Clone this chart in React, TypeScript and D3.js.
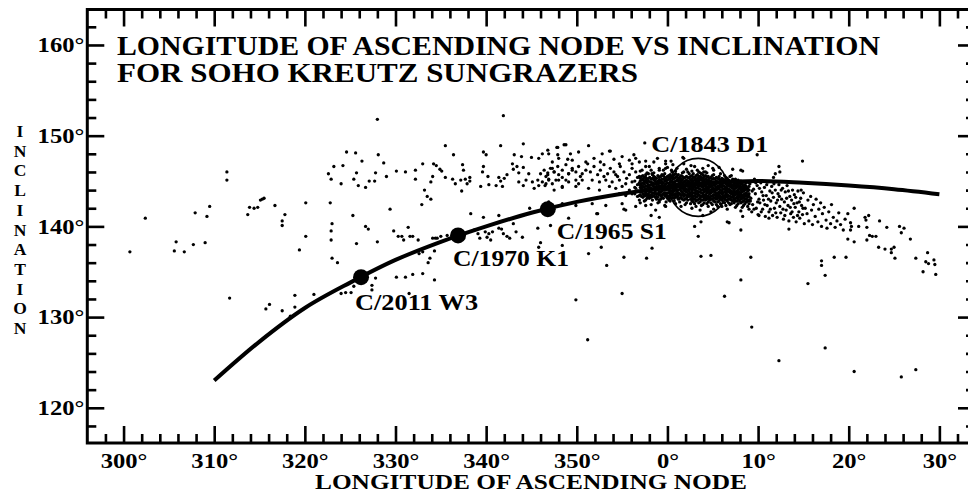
import { useEffect, useRef } from 'react'
import * as d3 from 'd3'

const WIDTH = 968
const HEIGHT = 493
const FONT = "'Liberation Serif', serif"

const titleLines = ['LONGITUDE OF ASCENDING NODE VS INCLINATION', 'FOR SOHO KREUTZ SUNGRAZERS']
const xAxisTitle = 'LONGITUDE OF ASCENDING NODE'
const yAxisTitle = 'INCLINATION'

// longitudes after 0° are kept as read and unwrapped (+360) when drawn
const xMajorTicks = [300, 310, 320, 330, 340, 350, 0, 10, 20, 30]
const yMajorTicks = [120, 130, 140, 150, 160]

// [longitude, inclination] along the drawn Kreutz curve
const kreutzCurve: [number, number][] = [
  [310, 123.0], [315, 127.3], [320, 131.0], [325, 133.8], [330, 136.3],
  [335, 138.3], [340, 140.0], [345, 141.5], [350, 142.7], [355, 143.6],
  [0, 144.3], [5, 144.8], [10, 145.0], [15, 144.8], [20, 144.5],
  [25, 144.1], [30, 143.55],
]

const namedComets = [
  { name: 'C/2011 W3', lon: 326.2, inc: 134.4 },
  { name: 'C/1970 K1', lon: 336.9, inc: 139.0 },
  { name: 'C/1965 S1', lon: 346.8, inc: 141.9 },
]
const greatComet = { name: 'C/1843 D1', lon: 3.4, inc: 144.3 }

// sparse SOHO comets, west of the main clump
const westPoints: [number, number][] = [
  [300.7, 137.2], [302.4, 140.9], [305.6, 137.3], [305.8, 138.3], [306.7, 137.2], [307.7, 138.0],
  [307.9, 141.5], [309.0, 138.2], [309.2, 141.1], [309.5, 142.2], [311.4, 145.1], [311.4, 146.0],
  [311.7, 132.1], [313.7, 141.3], [313.9, 142.1], [314.4, 142.0], [314.8, 142.1], [315.1, 142.9],
  [315.3, 143.0], [315.5, 143.1], [315.7, 130.9], [316.1, 131.4], [316.7, 142.3], [317.5, 130.7],
  [317.5, 140.6], [317.5, 140.1], [317.8, 141.3], [318.4, 130.1], [318.9, 132.4], [318.9, 131.1],
  [319.4, 137.4], [320.1, 142.6], [320.1, 138.9], [321.0, 132.5], [322.6, 145.8], [322.8, 142.6],
  [322.9, 145.2], [323.0, 140.3], [322.9, 139.5], [322.9, 138.5], [323.0, 136.5], [323.2, 146.6],
]

const middlePoints: [number, number][] = [
  [328.0, 151.8], [341.9, 152.2], [324.6, 148.2], [325.6, 148.1], [326.3, 147.2], [328.1, 147.9],
  [328.7, 147.0], [335.5, 148.9], [336.4, 147.9], [339.7, 148.2], [340.0, 147.9], [341.6, 148.9],
  [344.1, 149.1], [343.1, 147.9], [343.9, 147.7], [345.0, 147.6], [345.8, 147.5], [346.8, 148.4],
  [347.8, 148.7], [348.8, 149.0], [347.9, 147.9], [349.0, 147.4],
  [324.2, 146.7], [324.0, 144.7], [325.4, 145.2], [325.7, 145.9], [325.9, 144.5], [326.7, 144.3],
  [327.1, 145.0], [327.8, 145.9], [327.7, 145.0], [329.0, 145.5], [330.1, 146.1], [331.1, 146.0],
  [332.2, 146.2], [332.2, 145.2], [333.0, 146.9], [334.2, 146.9], [334.5, 146.7], [334.9, 146.3],
  [335.1, 146.1], [335.5, 145.4], [334.1, 145.5], [333.9, 144.9], [336.3, 145.2], [337.4, 146.8],
  [337.5, 146.2], [337.7, 145.2], [337.2, 145.1], [337.9, 144.7], [338.2, 145.4], [338.2, 145.0],
  [336.6, 144.7], [337.3, 143.9], [339.6, 146.0], [339.7, 146.6], [340.2, 145.5], [339.4, 144.4],
  [340.3, 144.6], [341.4, 145.4], [341.6, 145.0], [342.0, 145.3], [341.1, 144.5], [341.8, 144.4],
  [342.3, 145.7], [342.9, 146.9], [343.0, 146.3], [343.4, 146.6], [343.6, 145.9], [344.1, 146.5],
  [344.4, 145.1], [344.7, 145.8], [345.1, 144.9], [345.7, 145.1], [345.8, 144.5], [346.2, 144.9],
  [346.6, 145.5], [346.8, 145.9], [346.9, 145.2], [347.3, 146.4], [347.5, 146.0], [347.7, 145.1],
  [348.0, 145.7], [348.4, 145.4], [348.8, 145.1], [349.1, 145.8], [349.5, 146.2], [349.9, 144.4],
  [343.6, 144.9], [344.1, 144.5], [345.3, 144.2], [346.5, 144.5], [347.3, 144.7], [348.4, 144.3],
  [333.2, 144.0], [333.5, 143.3], [333.9, 143.0], [332.9, 142.4], [329.4, 141.9], [325.3, 141.2],
  [323.6, 136.0], [326.7, 140.0], [327.0, 139.7], [328.0, 138.3], [325.7, 138.1], [329.8, 139.5],
  [330.3, 138.9], [330.7, 138.9], [330.9, 138.5], [331.4, 139.9], [331.6, 138.9], [331.9, 138.9],
  [332.5, 138.5], [332.6, 137.0], [333.0, 137.2], [333.6, 136.0], [333.8, 136.5], [334.3, 137.3],
  [334.4, 138.7], [335.0, 138.9], [335.7, 139.0], [334.1, 138.7], [334.6, 138.7], [338.3, 141.4],
  [338.7, 139.6], [339.1, 139.2], [339.3, 138.7], [339.7, 141.0], [339.9, 139.4], [340.1, 138.8],
  [340.3, 139.2], [340.5, 138.5], [340.7, 139.4], [341.4, 141.2], [341.4, 139.8], [341.7, 139.7],
  [341.9, 139.2], [342.3, 138.9], [342.6, 138.7], [343.0, 140.3], [343.3, 139.4], [344.0, 138.8],
  [344.8, 142.0], [345.8, 137.7], [346.0, 138.2], [345.7, 139.8], [347.1, 140.1], [348.4, 137.9],
  [349.1, 140.9], [349.9, 131.9],
  [330.1, 134.4], [331.1, 134.4], [331.9, 134.7], [333.0, 134.8], [334.3, 134.1], [331.5, 132.6],
  [324.0, 132.6], [324.5, 132.7], [325.1, 132.7], [325.4, 133.4], [327.4, 133.0], [327.4, 133.5],
  [327.8, 134.3], [326.0, 133.8],
]

// approach to the clump, 346°-1°
const clumpEdgePoints: [number, number][] = [
  [347.9, 148.7], [348.6, 149.0], [346.2, 148.0], [346.9, 148.0], [349.3, 148.0], [350.2, 148.2],
  [351.3, 148.9], [352.8, 148.0], [353.6, 148.3], [351.9, 147.5], [352.6, 147.1], [354.1, 147.4],
  [355.0, 147.7], [355.8, 147.3], [356.5, 147.5], [356.9, 147.1], [357.6, 147.2], [358.5, 147.1],
  [358.9, 147.5], [359.8, 146.9], [0.4, 147.2], [347.3, 147.1], [348.0, 147.5], [349.5, 147.3],
  [351.0, 147.1], [354.7, 146.9], [356.1, 146.9],
  [346.0, 145.8], [346.4, 146.2], [346.8, 145.7], [347.1, 146.4], [347.5, 146.0], [347.9, 146.6],
  [348.4, 146.2], [348.8, 146.8], [349.1, 145.8], [349.5, 146.4], [349.9, 146.0], [350.2, 146.6],
  [350.6, 145.8], [351.0, 146.2], [351.2, 146.9], [351.5, 146.0], [351.9, 146.6], [352.3, 145.7],
  [352.6, 146.2], [353.0, 146.8], [353.4, 145.8], [353.7, 146.4], [354.1, 146.0], [354.5, 145.5],
  [354.8, 146.6], [355.2, 146.0], [355.5, 145.3], [355.8, 145.7], [356.1, 146.4], [356.5, 146.0],
  [356.9, 145.5], [357.2, 146.2], [357.6, 145.7], [358.0, 146.6], [358.3, 145.8], [358.7, 145.3],
  [359.1, 146.2], [359.4, 145.7], [359.8, 146.4], [0.2, 145.5], [0.5, 146.0], [0.9, 145.8],
  [351.7, 145.1], [352.5, 144.9], [353.2, 145.1], [353.9, 144.9], [354.7, 145.1], [355.4, 144.7],
  [356.1, 144.9], [356.9, 144.8], [357.6, 145.1], [358.3, 144.7], [359.1, 144.9], [359.8, 145.1],
  [0.5, 144.9], [350.6, 145.1], [349.9, 145.1], [349.1, 144.9], [348.0, 145.1], [346.9, 145.1],
  [353.0, 145.5], [354.3, 145.7], [350.4, 145.5],
  [353.6, 144.4], [354.3, 144.2], [355.0, 144.4], [355.8, 144.0], [356.5, 144.2], [357.2, 144.4],
  [358.0, 144.0], [358.7, 144.2], [359.4, 144.4], [0.2, 144.0], [0.9, 144.2], [354.7, 143.6],
  [355.4, 143.4], [356.1, 143.6], [356.9, 143.4], [357.6, 143.6], [358.3, 143.4], [359.1, 143.6],
  [359.8, 143.4], [0.5, 143.6], [356.9, 142.9], [358.0, 143.1], [359.1, 142.9], [0.2, 143.1],
  [1.1, 143.3], [350.2, 144.7], [351.3, 144.2], [352.5, 144.0], [348.4, 144.4], [346.6, 144.7],
  [347.5, 144.0],
  [346.9, 142.7], [348.4, 142.5], [349.9, 142.3], [351.7, 142.5], [353.2, 142.3], [355.0, 142.5],
  [356.5, 142.2], [357.6, 142.3], [358.7, 141.8], [359.8, 142.2], [352.3, 141.4], [355.4, 141.8],
]

// scattered points east of 348°, away from the clump
const eastPoints: [number, number][] = [
  [353.3, 135.7], [8.1, 134.1], [355.0, 132.6], [6.3, 132.3], [9.3, 128.9], [351.2, 127.5],
  [357.5, 149.2], [353.7, 148.3], [352.2, 141.4], [355.2, 141.9], [358.2, 141.2], [359.1, 141.0],
  [352.7, 137.7], [351.3, 137.0], [355.2, 136.6], [357.7, 136.5], [358.3, 137.6], [3.0, 140.0],
  [3.4, 138.9], [3.7, 140.5], [3.7, 136.7], [4.8, 136.8], [6.8, 140.4], [8.1, 139.6], [9.2, 136.6],
  [359.8, 147.2], [356.3, 147.9], [1.7, 147.6],
  [2.6, 146.7], [4.0, 146.0], [5.0, 146.4], [1.8, 147.5], [8.1, 146.2], [11.9, 145.8], [12.3, 146.6],
  [3.9, 141.2], [4.8, 141.6], [6.6, 140.5], [8.3, 141.1], [10.1, 141.2], [11.2, 140.9],
  [9.9, 147.9], [8.3, 146.1], [14.9, 147.2], [12.4, 146.0], [11.7, 145.4], [12.3, 125.2],
  [13.4, 139.7], [15.5, 133.7], [17.0, 136.2], [17.0, 135.7], [17.4, 134.6], [18.4, 136.6],
  [19.7, 136.6], [17.4, 126.6], [20.6, 124.0], [25.8, 123.4], [27.4, 124.2], [19.9, 138.6],
  [20.6, 138.3], [20.2, 139.6], [20.3, 140.0], [21.1, 140.0], [20.6, 142.0], [21.9, 140.7],
  [21.8, 141.0], [22.2, 141.2], [22.0, 139.9], [22.0, 138.5], [22.3, 139.0], [22.6, 138.9],
  [23.0, 138.9], [23.4, 140.6], [23.3, 137.7], [24.0, 137.5], [24.2, 139.9], [24.7, 137.5],
  [24.7, 137.1], [25.0, 137.7], [25.1, 136.5], [25.6, 140.0], [26.1, 139.8], [25.8, 139.3],
  [26.8, 138.6], [27.4, 136.5], [28.2, 135.0], [28.7, 137.1], [28.5, 136.1], [28.8, 135.9],
  [29.4, 136.3], [29.5, 135.8], [29.6, 134.7],
]

// the thinning tail of the clump, 9°-20°
const clumpTailPoints: [number, number][] = [
  [9.1, 144.7], [9.2, 143.1], [9.3, 141.6], [9.4, 142.4], [9.5, 144.1], [9.6, 145.2], [9.7, 143.6],
  [9.8, 142.0], [9.9, 144.5], [10.0, 141.3], [10.1, 143.0], [10.2, 142.6], [10.3, 144.8], [10.4, 143.8],
  [10.5, 141.9], [10.6, 142.9], [10.7, 144.3], [10.8, 141.1], [10.9, 143.4], [11.0, 142.3], [11.1, 144.9],
  [11.2, 141.6], [11.3, 143.9], [11.4, 142.8], [11.5, 144.4], [11.6, 141.2], [11.7, 143.2], [11.8, 142.0],
  [11.9, 144.0], [12.0, 142.6], [12.1, 141.0], [12.2, 143.6], [12.3, 144.6], [12.4, 142.2], [12.5, 141.5],
  [12.6, 143.0], [12.7, 144.2], [12.8, 140.8], [12.9, 142.7], [13.0, 143.8], [13.1, 141.8], [13.2, 144.5],
  [13.3, 142.3], [13.4, 140.6], [13.5, 143.3], [13.6, 141.4], [13.7, 142.9], [13.8, 144.0], [13.9, 141.0],
  [14.0, 143.5], [14.1, 142.1], [14.2, 140.5], [14.3, 142.6], [14.4, 143.9], [14.5, 141.6], [14.6, 140.9],
  [14.7, 143.1], [14.8, 142.3], [14.9, 141.3], [15.0, 143.7], [15.1, 140.3], [15.2, 142.0], [15.4, 141.4],
  [15.5, 142.9], [15.6, 140.6], [15.8, 143.3], [15.9, 141.8], [16.0, 140.2], [16.1, 142.4], [16.3, 141.1],
  [16.4, 143.0], [16.6, 140.5], [16.7, 141.9], [16.9, 142.6], [17.0, 140.0], [17.1, 141.4], [17.3, 142.1],
  [17.5, 140.7], [17.6, 139.8], [17.8, 141.6], [18.0, 140.3], [18.1, 142.4], [18.3, 141.0], [18.5, 139.9],
  [18.7, 140.6], [18.9, 141.5], [19.1, 140.2], [19.4, 139.6], [19.6, 140.8], [19.9, 141.4], [20.2, 140.4],
  [9.15, 142.8], [9.35, 143.9], [9.55, 141.9], [9.75, 144.8], [9.95, 142.7], [10.15, 144.2], [10.35, 141.6],
  [10.55, 143.4], [10.75, 142.4], [10.95, 144.6], [11.15, 143.0], [11.35, 141.9], [11.55, 143.7],
  [11.75, 144.7], [11.95, 141.5], [12.15, 142.9], [12.35, 143.3], [12.55, 144.0], [12.75, 141.9],
  [12.95, 141.2], [13.15, 143.1], [13.35, 143.9], [13.55, 142.1], [13.75, 141.6], [13.95, 142.5],
  [14.15, 143.2], [14.35, 141.2], [14.55, 142.7], [14.75, 144.0], [14.95, 142.0],
]

// the dense core near 0°: [longitude, inclinations in that thin column]
const clumpColumns: [number, number[]][] = [
  [356.4, [143.6, 144.3, 145.0]],
  [356.7, [143.3, 143.9, 144.6, 145.4]],
  [357.0, [142.6, 143.5, 143.9, 144.3, 144.6, 145.0, 145.3, 146.1]],
  [357.15, [143.3, 143.8, 144.2, 144.7, 145.1, 145.5]],
  [357.3, [143.2, 143.6, 144.0, 144.4, 144.8, 145.2, 145.6]],
  [357.45, [142.8, 143.4, 143.9, 144.3, 144.7, 145.0, 145.4]],
  [357.6, [142.9, 143.4, 143.7, 144.1, 144.5, 144.9, 145.4, 146.6]],
  [357.75, [143.1, 143.5, 143.9, 144.4, 144.8, 145.2, 145.9]],
  [357.9, [143.3, 143.6, 144.0, 144.3, 144.6, 145.0, 145.3, 145.8]],
  [358.05, [143.4, 143.8, 144.2, 144.5, 144.9, 145.4]],
  [358.2, [142.4, 143.2, 143.5, 143.9, 144.2, 144.6, 144.9, 145.2, 146.2]],
  [358.35, [142.9, 143.3, 143.7, 144.1, 144.5, 144.8, 145.3, 145.7]],
  [358.5, [143.4, 143.7, 144.1, 144.4, 144.7, 145.1, 145.5, 145.9]],
  [358.65, [143.2, 143.6, 143.9, 144.3, 144.7, 145.0, 145.4]],
  [358.8, [143.0, 143.3, 143.6, 144.0, 144.3, 144.6, 144.9, 145.3]],
  [358.95, [142.6, 143.2, 143.6, 144.0, 144.3, 144.7, 145.0, 145.6]],
  [359.1, [142.7, 143.5, 143.8, 144.1, 144.5, 144.8, 145.1, 145.4, 146.4]],
  [359.25, [143.0, 143.4, 143.8, 144.1, 144.4, 144.8, 145.1, 145.5]],
  [359.4, [143.2, 143.5, 143.9, 144.2, 144.6, 144.9, 145.2, 145.6]],
  [359.55, [143.1, 143.6, 144.0, 144.4, 144.8, 145.2, 145.6, 146.2]],
  [359.7, [142.3, 143.4, 143.7, 144.0, 144.3, 144.6, 145.0, 145.4, 145.8]],
  [359.85, [142.7, 143.3, 143.6, 144.0, 144.3, 144.7, 145.0, 145.3]],
  [0.0, [143.1, 143.4, 143.7, 144.1, 144.4, 144.8, 145.1, 145.5, 146.5]],
  [0.15, [142.9, 143.3, 143.7, 144.0, 144.4, 144.7, 145.2, 145.6]],
  [0.3, [142.8, 143.3, 143.6, 143.9, 144.2, 144.6, 144.9, 145.3, 145.7]],
  [0.45, [143.1, 143.5, 143.9, 144.3, 144.6, 145.0, 145.4, 146.2]],
  [0.6, [143.2, 143.5, 143.8, 144.1, 144.5, 144.8, 145.2, 145.5, 146.8]],
  [0.75, [142.8, 143.1, 143.5, 143.9, 144.2, 144.6, 144.9, 145.3, 145.7]],
  [0.9, [142.5, 143.3, 143.6, 144.0, 144.3, 144.7, 145.0, 145.4, 146.1]],
  [1.05, [143.2, 143.6, 143.9, 144.3, 144.6, 145.1, 145.5, 146.4]],
  [1.2, [143.0, 143.4, 143.7, 144.0, 144.4, 144.7, 145.0, 145.3, 145.7]],
  [1.35, [142.7, 143.1, 143.6, 144.1, 144.4, 144.8, 145.1, 145.4]],
  [1.5, [142.2, 143.2, 143.5, 143.9, 144.2, 144.5, 144.9, 145.2, 145.6]],
  [1.65, [143.0, 143.5, 143.8, 144.2, 144.5, 144.8, 145.1, 145.5, 145.9]],
  [1.8, [142.9, 143.3, 143.6, 144.0, 144.3, 144.6, 144.9, 145.3, 146.0, 146.9]],
  [1.95, [142.4, 143.0, 143.5, 143.9, 144.2, 144.6, 145.0, 145.4]],
  [2.1, [142.6, 143.1, 143.4, 143.8, 144.1, 144.5, 144.8, 145.1, 145.5, 146.3]],
  [2.25, [142.9, 143.3, 143.6, 144.0, 144.4, 144.7, 145.0, 145.4, 146.0]],
  [2.4, [143.3, 143.6, 143.9, 144.2, 144.6, 144.9, 145.3, 145.8]],
  [2.55, [142.5, 143.0, 143.4, 143.7, 144.1, 144.4, 144.8, 145.1, 145.5]],
  [2.7, [142.0, 142.8, 143.2, 143.5, 143.9, 144.2, 144.5, 144.9, 145.2, 145.6, 146.1]],
  [2.85, [142.7, 143.0, 143.3, 143.7, 144.1, 144.3, 144.7, 145.0, 145.4, 145.8]],
  [3.0, [142.5, 143.0, 143.4, 143.7, 144.0, 144.4, 144.7, 145.1, 145.4, 146.6]],
  [3.15, [142.2, 142.8, 143.2, 143.6, 143.9, 144.2, 144.6, 144.9, 145.2, 145.6]],
  [3.3, [142.9, 143.3, 143.6, 143.9, 144.3, 144.6, 145.0, 145.3, 145.7, 146.2]],
  [3.45, [142.6, 143.0, 143.5, 143.8, 144.2, 144.5, 144.9, 145.1, 145.5, 146.0]],
  [3.6, [141.8, 142.7, 143.1, 143.4, 143.8, 144.1, 144.5, 144.8, 145.2, 145.5, 145.9]],
  [3.75, [142.3, 142.9, 143.3, 143.7, 144.0, 144.4, 144.7, 145.1, 145.4, 145.8]],
  [3.9, [142.4, 142.9, 143.3, 143.6, 144.0, 144.3, 144.6, 145.0, 145.3, 145.7, 146.4]],
  [4.05, [142.6, 143.1, 143.4, 143.8, 144.1, 144.5, 144.8, 145.1, 145.5]],
  [4.2, [142.9, 143.2, 143.5, 143.9, 144.2, 144.5, 144.9, 145.2, 145.6, 146.0]],
  [4.35, [142.5, 143.0, 143.3, 143.7, 144.0, 144.3, 144.7, 145.0, 145.4, 145.9]],
  [4.5, [142.2, 142.7, 143.1, 143.4, 143.8, 144.1, 144.4, 144.8, 145.1, 145.5, 146.7]],
  [4.65, [142.9, 143.2, 143.6, 143.9, 144.3, 144.6, 145.0, 145.3]],
  [4.8, [142.6, 143.0, 143.3, 143.7, 144.0, 144.4, 144.7, 145.0, 145.4]],
  [4.95, [142.4, 143.0, 143.4, 143.8, 144.1, 144.4, 144.8, 145.2, 145.6]],
  [5.1, [141.9, 142.8, 143.2, 143.5, 143.9, 144.2, 144.6, 144.9, 145.3, 145.7, 146.2]],
  [5.25, [142.7, 143.1, 143.5, 143.8, 144.1, 144.5, 144.8, 145.2]],
  [5.4, [142.4, 143.0, 143.3, 143.6, 144.0, 144.3, 144.7, 145.0, 145.4]],
  [5.55, [142.2, 142.7, 143.1, 143.4, 143.7, 144.1, 144.4, 144.9, 145.3]],
  [5.7, [142.8, 143.2, 143.5, 143.8, 144.2, 144.5, 144.8, 145.2, 145.5, 146.5]],
  [5.85, [142.5, 143.0, 143.3, 143.7, 144.0, 144.4, 144.7, 145.1, 145.8]],
  [6.0, [142.2, 142.9, 143.2, 143.6, 143.9, 144.3, 144.6, 145.0, 145.3]],
  [6.15, [142.7, 143.1, 143.4, 143.7, 144.1, 144.5, 144.8, 145.2]],
  [6.3, [142.6, 143.1, 143.4, 143.8, 144.1, 144.4, 144.8, 145.1, 145.6]],
  [6.45, [142.3, 142.9, 143.3, 143.6, 144.0, 144.3, 144.7, 145.0, 145.4]],
  [6.6, [141.9, 142.8, 143.2, 143.5, 143.9, 144.2, 144.6, 144.9, 145.3]],
  [6.75, [142.6, 143.0, 143.4, 143.8, 144.1, 144.5, 144.8, 145.1]],
  [6.9, [142.4, 143.0, 143.3, 143.7, 144.0, 144.4, 144.7, 145.0, 145.5]],
  [7.05, [142.5, 142.9, 143.2, 143.6, 143.9, 144.3, 144.6, 145.0, 145.6]],
  [7.2, [142.8, 143.2, 143.5, 143.8, 144.2, 144.5, 144.9, 145.2, 146.3]],
  [7.35, [142.6, 143.0, 143.4, 143.7, 144.0, 144.4, 144.7, 145.0]],
  [7.5, [142.1, 142.8, 143.1, 143.5, 143.8, 144.2, 144.5, 144.8, 145.2]],
  [7.65, [142.3, 142.8, 143.2, 143.6, 143.9, 144.3, 144.6, 144.9]],
  [7.8, [142.5, 143.0, 143.4, 143.7, 144.0, 144.4, 144.7, 145.1]],
  [7.95, [142.8, 143.2, 143.5, 143.8, 144.2, 144.5, 144.8]],
  [8.1, [141.7, 142.6, 143.0, 143.3, 143.6, 144.0, 144.3, 144.7, 145.0]],
  [8.25, [142.1, 142.7, 143.1, 143.4, 143.8, 144.1, 144.4, 144.7]],
  [8.4, [142.3, 142.8, 143.2, 143.5, 143.9, 144.2, 144.5, 144.9]],
  [8.55, [142.5, 143.0, 143.3, 143.6, 144.0, 144.3, 144.6]],
  [8.7, [142.7, 143.0, 143.4, 143.7, 144.1, 144.4, 144.8]],
  [8.85, [142.2, 142.8, 143.2, 143.5, 143.9, 144.2]],
  [9.0, [141.9, 142.5, 142.9, 143.3, 143.6, 144.0, 144.4, 144.8]],
]

const unwrap = (lon: number) => (lon < 200 ? lon + 360 : lon)

export default function App() {
  const svgRef = useRef<SVGSVGElement>(null)

  useEffect(() => {
    if (!svgRef.current) return
    const svg = d3.select(svgRef.current)
    svg.selectAll('*').remove()

    const left = 87.3
    const right = 975
    const top = 9.5
    const bottom = 443

    const x = d3.scaleLinear().domain([296, 393.93]).range([left, right])
    const y = d3.scaleLinear().domain([116.12, 163.91]).range([bottom, top])

    const xMajor = xMajorTicks.map(unwrap)
    const xMinor = d3.range(298, 394, 2).filter((v) => v % 10 !== 0)
    const yMinor = d3.range(118, 164, 2).filter((v) => v % 10 !== 0)

    // the reference font is a wide bold serif, so Liberation Serif gets stretched a bit
    const widen = (sel: d3.Selection<any, any, any, any>, factor: number) => {
      sel.each(function () {
        const el = this as SVGTextElement
        const len = el.getComputedTextLength()
        if (len > 0) {
          d3.select(el).attr('textLength', len * factor).attr('lengthAdjust', 'spacingAndGlyphs')
        }
      })
    }

    const styleAxis = (g: d3.Selection<SVGGElement, unknown, null, undefined>) => {
      g.select('.domain').remove()
      g.selectAll('line').attr('stroke', '#000').attr('stroke-width', 2.6)
      g.attr('font-family', FONT).attr('font-size', 21).attr('font-weight', 'bold')
      g.selectAll('text').attr('fill', '#000')
    }

    const deg = (v: d3.NumberValue) => `${Number(v) % 360}°`

    // bottom and top axes, ticks point inward
    const xLabels = svg.append('g').attr('transform', `translate(0,${bottom})`)
      .call(d3.axisBottom(x).tickValues(xMajor).tickSize(-17).tickPadding(10).tickFormat(deg))
      .call(styleAxis)
    widen(xLabels.selectAll('text'), 1.17)
    svg.append('g').attr('transform', `translate(0,${bottom})`)
      .call(d3.axisBottom(x).tickValues(xMinor).tickSize(-9).tickFormat(() => ''))
      .call(styleAxis)
    svg.append('g').attr('transform', `translate(0,${top})`)
      .call(d3.axisTop(x).tickValues(xMajor).tickSize(-17).tickFormat(() => ''))
      .call(styleAxis)
    svg.append('g').attr('transform', `translate(0,${top})`)
      .call(d3.axisTop(x).tickValues(xMinor).tickSize(-9).tickFormat(() => ''))
      .call(styleAxis)

    // left and right axes
    const yLabels = svg.append('g').attr('transform', `translate(${left},0)`)
      .call(d3.axisLeft(y).tickValues(yMajorTicks).tickSize(-17).tickPadding(3).tickFormat(deg))
      .call(styleAxis)
    widen(yLabels.selectAll('text'), 1.17)
    svg.append('g').attr('transform', `translate(${left},0)`)
      .call(d3.axisLeft(y).tickValues(yMinor).tickSize(-9).tickFormat(() => ''))
      .call(styleAxis)
    svg.append('g').attr('transform', `translate(${right},0)`)
      .call(d3.axisRight(y).tickValues(yMajorTicks).tickSize(-17).tickFormat(() => ''))
      .call(styleAxis)
    svg.append('g').attr('transform', `translate(${right},0)`)
      .call(d3.axisRight(y).tickValues(yMinor).tickSize(-9).tickFormat(() => ''))
      .call(styleAxis)

    // frame
    svg.append('rect')
      .attr('x', left).attr('y', top)
      .attr('width', right - left).attr('height', bottom - top)
      .attr('fill', 'none').attr('stroke', '#000').attr('stroke-width', 3)

    // scatter
    const clumpPoints: [number, number][] = clumpColumns.flatMap(([lon, incs]) =>
      incs.map((inc) => [lon, inc] as [number, number]),
    )
    const allPoints = [
      ...westPoints, ...middlePoints, ...clumpEdgePoints, ...eastPoints, ...clumpTailPoints, ...clumpPoints,
    ]
    svg.append('g')
      .selectAll('circle')
      .data(allPoints)
      .enter()
      .append('circle')
      .attr('cx', (d) => x(unwrap(d[0])))
      .attr('cy', (d) => y(d[1]))
      .attr('r', 1.65)
      .attr('fill', '#000')

    // Kreutz curve
    const line = d3.line<[number, number]>()
      .x((d) => x(unwrap(d[0])))
      .y((d) => y(d[1]))
      .curve(d3.curveCatmullRom)
    svg.append('path')
      .attr('d', line(kreutzCurve))
      .attr('fill', 'none')
      .attr('stroke', '#000')
      .attr('stroke-width', 4)

    // named comets
    const labelPlacement: Record<string, [number, number, number]> = {
      // dx, dy from the dot, label width
      'C/2011 W3': [-6, 33, 123],
      'C/1970 K1': [-5, 30.5, 116],
      'C/1965 S1': [9, 30, 110],
    }
    namedComets.forEach((c) => {
      const cx = x(unwrap(c.lon))
      const cy = y(c.inc)
      svg.append('circle').attr('cx', cx).attr('cy', cy).attr('r', 8).attr('fill', '#000')
      const [dx, dy, w] = labelPlacement[c.name]
      svg.append('text')
        .attr('x', cx + dx).attr('y', cy + dy)
        .attr('font-family', FONT).attr('font-weight', 'bold').attr('font-size', 23.5)
        .attr('textLength', w).attr('lengthAdjust', 'spacingAndGlyphs')
        .attr('fill', '#000')
        .text(c.name)
    })

    const gx = x(unwrap(greatComet.lon))
    const gy = y(greatComet.inc)
    svg.append('circle')
      .attr('cx', gx).attr('cy', gy).attr('r', 29)
      .attr('fill', 'none').attr('stroke', '#000').attr('stroke-width', 1.6)
    svg.append('text')
      .attr('x', gx - 47).attr('y', gy - 35)
      .attr('font-family', FONT).attr('font-weight', 'bold').attr('font-size', 23.5)
      .attr('textLength', 117).attr('lengthAdjust', 'spacingAndGlyphs')
      .attr('fill', '#000')
      .text(greatComet.name)

    // title
    const titleWidths = [763, 521]
    svg.append('g')
      .selectAll('text')
      .data(titleLines)
      .enter()
      .append('text')
      .attr('x', 117)
      .attr('y', (_, i) => 55 + i * 27)
      .attr('font-family', FONT).attr('font-weight', 'bold').attr('font-size', 26.5)
      .attr('textLength', (_, i) => titleWidths[i]).attr('lengthAdjust', 'spacingAndGlyphs')
      .attr('fill', '#000')
      .text((d) => d)

    // axis titles
    svg.append('text')
      .attr('x', 531).attr('y', 488.5)
      .attr('text-anchor', 'middle')
      .attr('font-family', FONT).attr('font-weight', 'bold').attr('font-size', 20)
      .attr('textLength', 432).attr('lengthAdjust', 'spacingAndGlyphs')
      .attr('fill', '#000')
      .text(xAxisTitle)

    // stacked vertical title, one tspan per letter
    svg.append('text')
      .attr('font-family', FONT).attr('font-weight', 'bold').attr('font-size', 17.5)
      .attr('text-anchor', 'middle')
      .attr('fill', '#000')
      .selectAll('tspan')
      .data(yAxisTitle.split(''))
      .enter()
      .append('tspan')
      .attr('x', 20)
      .attr('y', (_, i) => 137 + i * 19.7)
      .text((d) => d)
  }, [])

  return (
    <div style={{ position: 'absolute', left: 0, top: 0, width: WIDTH, height: HEIGHT, background: '#fff', overflow: 'hidden' }}>
      <svg ref={svgRef} width={WIDTH} height={HEIGHT} style={{ display: 'block' }} />
    </div>
  )
}
